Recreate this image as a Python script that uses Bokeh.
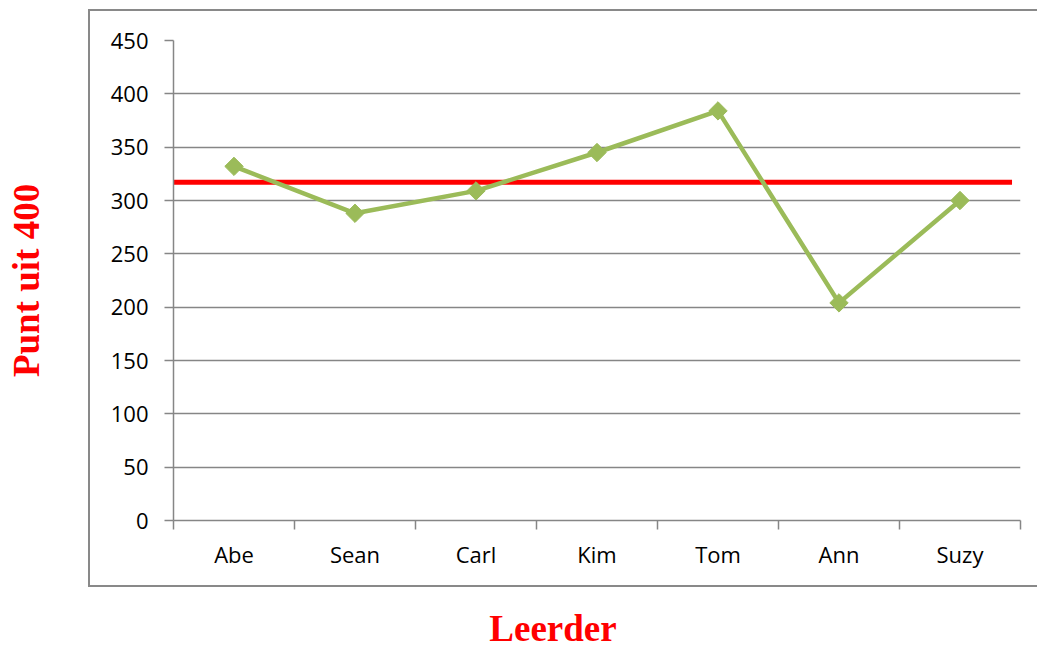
import math
from bokeh.plotting import figure
from bokeh.models import FixedTicker, Range1d, InlineStyleSheet, Div
from bokeh.layouts import column
from bokeh.embed import file_html
from bokeh.resources import INLINE

students = ["Abe", "Sean", "Carl", "Kim", "Tom", "Ann", "Suzy"]
scores = [332, 288, 309, 345, 384, 204, 300]
target = 317
y_ticks = [0, 50, 100, 150, 200, 250, 300, 350, 400, 450]
x_title = "Leerder"
y_title = "Punt uit 400"

xs = [i + 0.5 for i in range(len(students))]

p = figure(width=1037, height=596, output_backend="svg", toolbar_location=None,
           x_range=Range1d(0, len(students)), y_range=Range1d(0, 450),
           min_border_left=173, min_border_right=17, min_border_top=40, min_border_bottom=76)
p.outline_line_color = None
p.background_fill_color = "white"
p.border_fill_color = "white"

# outer chart-area box drawn as a CSS overlay on the plot element
p.stylesheets = [InlineStyleSheet(css="""
:host { position: relative; }
:host::after {
  content: ""; position: absolute; left: 88px; top: 9px;
  width: 949px; height: 578px; box-sizing: border-box;
  border: 2px solid #898989; border-right: none; pointer-events: none;
}
""")]

grid_col = "#868686"
p.xgrid.visible = False
p.ygrid.ticker = FixedTicker(ticks=y_ticks)
p.ygrid.grid_line_color = grid_col
p.ygrid.grid_line_width = 1.5

# y axis
p.yaxis.ticker = FixedTicker(ticks=y_ticks)
p.yaxis.axis_line_color = grid_col
p.yaxis.axis_line_width = 1.5
p.yaxis.major_tick_line_color = grid_col
p.yaxis.major_tick_line_width = 1.5
p.yaxis.major_tick_out = 9
p.yaxis.major_tick_in = 0
p.yaxis.minor_tick_line_color = None
p.yaxis.major_label_standoff = 16
p.yaxis.major_label_text_font = "Open Sans"
p.yaxis.major_label_text_font_size = "22px"
p.yaxis.major_label_text_color = "black"
p.yaxis.axis_label = y_title
p.yaxis.axis_label_text_font = "Liberation Serif"
p.yaxis.axis_label_text_font_style = "bold"
p.yaxis.axis_label_text_font_size = "37px"
p.yaxis.axis_label_text_color = "#FF0000"
p.yaxis.axis_label_standoff = 61

# x axis
p.xaxis.ticker = FixedTicker(ticks=xs, minor_ticks=list(range(len(students) + 1)))
p.xaxis.major_label_overrides = {x: s for x, s in zip(xs, students)}
p.xaxis.axis_line_color = grid_col
p.xaxis.axis_line_width = 1.5
p.xaxis.major_tick_line_color = None
p.xaxis.minor_tick_line_color = grid_col
p.xaxis.minor_tick_line_width = 1.5
p.xaxis.minor_tick_out = 9
p.xaxis.minor_tick_in = 0
p.xaxis.major_label_standoff = 9
p.xaxis.major_label_text_font = "Open Sans"
p.xaxis.major_label_text_font_size = "22px"
p.xaxis.major_label_text_color = "black"

# target line
p.segment(x0=[0], y0=[target], x1=[len(students) - 0.07], y1=[target],
          line_color="#FF0000", line_width=5)

green = "#9BBB59"
p.line(xs, scores, line_color=green, line_width=4.5)
p.scatter(xs, scores, marker="square", angle=math.pi / 4, size=13,
          fill_color=green, line_color=green)

# x-axis title below the chart box
xlab = Div(text=x_title, width=1037, height=50,
           styles={"font-family": "'Liberation Serif'", "font-weight": "bold",
                   "font-size": "37px", "color": "#FF0000", "text-align": "center",
                   "padding-left": "59px", "padding-top": "6px",
                   "box-sizing": "border-box", "line-height": "normal"})

layout = column(p, xlab, spacing=0)

open("out.html", "w").write(file_html(layout, INLINE))
